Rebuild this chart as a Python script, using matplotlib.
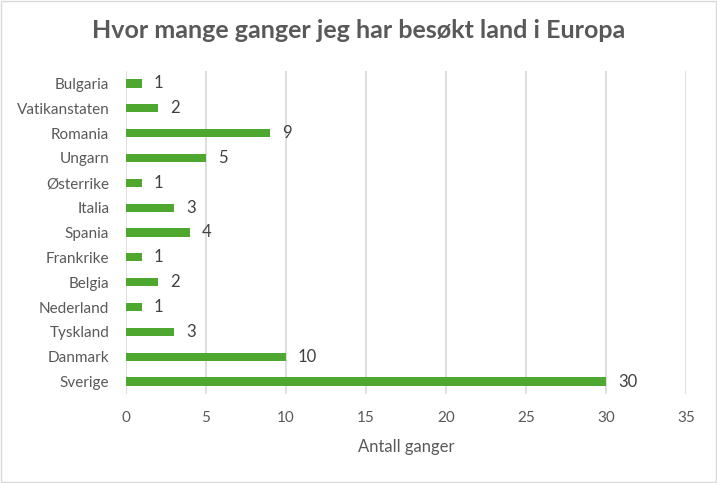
import matplotlib
matplotlib.use("Agg")
import matplotlib.pyplot as plt
from matplotlib.patches import Rectangle

# Data (top to bottom as in the chart)
land = ["Bulgaria", "Vatikanstaten", "Romania", "Ungarn", "Østerrike", "Italia",
        "Spania", "Frankrike", "Belgia", "Nederland", "Tyskland", "Danmark", "Sverige"]
ganger = [1, 2, 9, 5, 1, 3, 4, 1, 2, 1, 3, 10, 30]
x_ticks = [0, 5, 10, 15, 20, 25, 30, 35]

tekst_farge = "#595959"
bar_farge = "#4EA72E"

plt.rcParams['font.family'] = ['Lato', 'DejaVu Sans']

fig = plt.figure(figsize=(7.17, 4.83), dpi=100)
ax = fig.add_axes([0.1757, 0.1843, 0.7811, 0.6687])

pos = list(range(len(land)))
ax.barh(pos, ganger, height=0.33, color=bar_farge, zorder=3)
ax.set_ylim(len(land) - 0.5, -0.5)
ax.set_xlim(0, 35)
ax.set_xticks(x_ticks)
ax.set_yticks(pos)
ax.set_yticklabels(land)

for p, v in zip(pos, ganger):
    ax.text(v + 0.75, p, str(v), va="center", ha="left", fontsize=12, color="#404040")

ax.grid(axis="x", color="#D9D9D9", linewidth=1.2, zorder=0)
for s in ax.spines.values():
    s.set_visible(False)
ax.tick_params(axis="both", length=0, labelsize=11, labelcolor=tekst_farge)
ax.tick_params(axis="x", pad=12)
ax.tick_params(axis="y", pad=12)

ax.set_xlabel("Antall ganger", fontsize=12, color=tekst_farge, labelpad=10)

fig.text(0.5, 0.937, "Hvor mange ganger jeg har besøkt land i Europa", ha="center", va="center",
         fontsize=18, fontweight="bold", fontstretch="condensed", color=tekst_farge,
         family=["Lato", "DejaVu Sans"])

fig.patches.append(Rectangle((0.002, 0.002), 0.996, 0.996, transform=fig.transFigure,
                             fill=False, edgecolor="#D9D9D9", linewidth=1))

fig.savefig("out.png", dpi=100)
